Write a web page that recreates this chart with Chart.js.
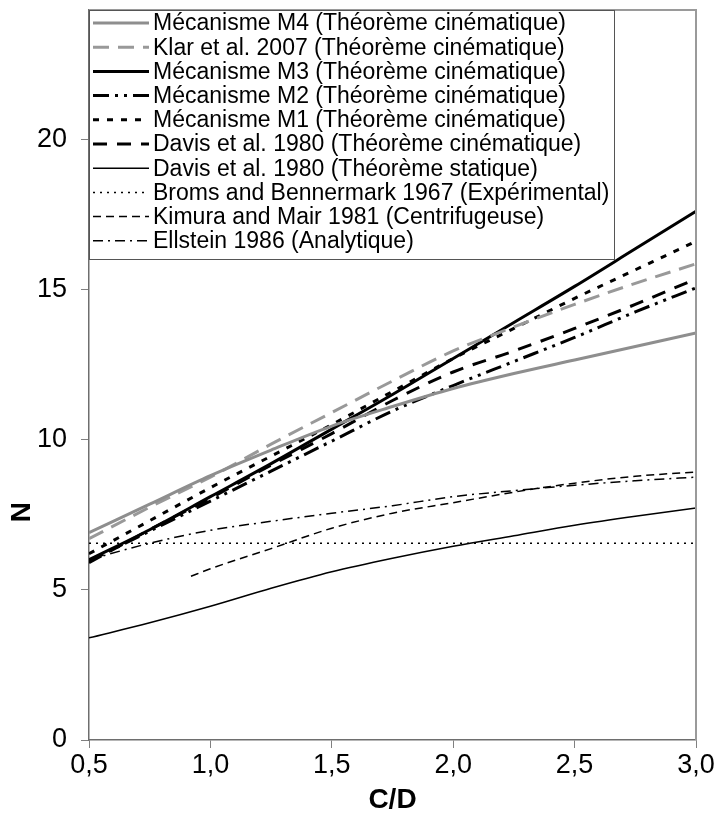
<!DOCTYPE html>
<html><head><meta charset="utf-8">
<script src="https://cdn.jsdelivr.net/npm/chart.js@4/dist/chart.umd.min.js"></script>
<style>html,body{margin:0;padding:0;background:#fff;}</style>
</head><body>
<canvas id="c" width="718" height="821" style="display:block"></canvas>
<script>
// ---- data ----
const cd       = [0.5, 0.75, 1.0, 1.25, 1.5, 1.75, 2.0, 2.25, 2.5, 2.75, 3.0];
const m4       = [6.9, 7.85, 8.8, 9.65, 10.45, 11.1, 11.7, 12.2, 12.65, 13.1, 13.55];
const klar     = [6.7, 7.75, 8.75, 9.85, 10.9, 11.95, 12.95, 13.75, 14.5, 15.2, 15.85];
const m3       = [6.0, 7.0, 8.1, 9.2, 10.35, 11.5, 12.7, 13.9, 15.1, 16.35, 17.6];
const m2       = [5.95, 6.95, 7.95, 8.95, 9.95, 10.95, 11.8, 12.6, 13.4, 14.25, 15.05];
const m1       = [6.2, 7.3, 8.4, 9.45, 10.5, 11.6, 12.7, 13.7, 14.7, 15.65, 16.6];
const davisCin = [5.9, 7.0, 8.05, 9.15, 10.2, 11.3, 12.25, 12.95, 13.7, 14.5, 15.35];
const davisSta = [3.4, 3.9, 4.45, 5.05, 5.6, 6.05, 6.45, 6.8, 7.15, 7.45, 7.72];
const bromsX   = [0.5, 3.0];
const broms    = [6.55, 6.55];
const kimuraX  = [0.92, 1.0, 1.25, 1.5, 1.75, 2.0, 2.25, 2.5, 2.75, 3.0];
const kimura   = [5.45, 5.7, 6.37, 7.05, 7.55, 7.9, 8.25, 8.55, 8.78, 8.92];
const ellstein = [6.0, 6.55, 6.98, 7.28, 7.55, 7.8, 8.1, 8.3, 8.48, 8.63, 8.75];
const labels = [
  'Mécanisme M4 (Théorème cinématique)',
  'Klar et al. 2007 (Théorème cinématique)',
  'Mécanisme M3 (Théorème cinématique)',
  'Mécanisme M2 (Théorème cinématique)',
  'Mécanisme M1 (Théorème cinématique)',
  'Davis et al. 1980 (Théorème cinématique)',
  'Davis et al. 1980 (Théorème statique)',
  'Broms and Bennermark 1967 (Expérimental)',
  'Kimura and Mair 1981 (Centrifugeuse)',
  'Ellstein 1986 (Analytique)'
];
const xTicks = [0.5, 1.0, 1.5, 2.0, 2.5, 3.0];
const yTicks = [0, 5, 10, 15, 20];

const pts = (xs, ys) => xs.map((x, i) => ({x, y: ys[i]}));
const FONT = "'Liberation Sans', Arial, sans-serif";

function ds(label, xs, ys, color, width, dash) {
  return {label, data: pts(xs, ys), borderColor: color, borderWidth: width,
    borderDash: dash, pointRadius: 0, fill: false, cubicInterpolationMode: 'monotone'};
}

const datasets = [
  ds(labels[0], cd, m4, '#8e8e8e', 3, []),
  ds(labels[1], cd, klar, '#999999', 3, [16, 9]),
  ds(labels[2], cd, m3, '#000', 3, []),
  ds(labels[3], cd, m2, '#000', 3, [16, 6, 3, 6, 3, 6]),
  ds(labels[4], cd, m1, '#000', 3, [6, 8]),
  ds(labels[5], cd, davisCin, '#000', 3, [14, 10]),
  ds(labels[6], cd, davisSta, '#000', 1.5, []),
  ds(labels[7], bromsX, broms, '#000', 1.5, [2, 5]),
  ds(labels[8], kimuraX, kimura, '#000', 1.5, [8, 5]),
  ds(labels[9], cd, ellstein, '#000', 1.5, [10, 5, 2, 5])
];

const extras = {
  id: 'extras',
  afterDatasetsDraw(chart) {
    const {ctx, chartArea: a} = chart;
    ctx.save();
    ctx.strokeStyle = '#9a9a9a'; ctx.lineWidth = 2; ctx.setLineDash([]);
    ctx.beginPath(); ctx.moveTo(a.left, a.top); ctx.lineTo(a.right, a.top); ctx.lineTo(a.right, a.bottom); ctx.stroke();
    const lx = a.left, ly = a.top, lw = 525, lh = 249;
    ctx.fillStyle = '#fff'; ctx.fillRect(lx, ly, lw, lh);
    ctx.strokeStyle = '#555'; ctx.lineWidth = 1;
    ctx.strokeRect(lx + 0.5, ly + 0.5, lw, lh);
    chart.data.datasets.forEach((d, i) => {
      const y = ly + 13 + i * 24.2;
      ctx.strokeStyle = d.borderColor; ctx.lineWidth = d.borderWidth;
      ctx.setLineDash(d.borderDash || []);
      ctx.beginPath(); ctx.moveTo(lx + 4, y); ctx.lineTo(lx + 60, y); ctx.stroke();
      ctx.setLineDash([]);
      ctx.fillStyle = '#000'; ctx.font = '23px ' + FONT; ctx.textBaseline = 'middle'; ctx.textAlign = 'left';
      ctx.fillText(d.label, lx + 64, y + 1);
    });
    ctx.restore();
  },
  afterDraw(chart) {
    const {ctx, chartArea: a} = chart;
    ctx.save();
    ctx.translate(22, a.top + 0.688 * (a.bottom - a.top));
    ctx.rotate(-Math.PI / 2);
    ctx.font = 'bold 28px ' + FONT; ctx.fillStyle = '#000';
    ctx.textAlign = 'center'; ctx.textBaseline = 'middle';
    ctx.fillText('N', 0, 0);
    ctx.restore();
  }
};

new Chart(document.getElementById('c'), {
  type: 'line',
  data: {datasets},
  options: {
    responsive: false, animation: false, devicePixelRatio: 1,
    layout: {padding: {top: 10, right: 22, left: 0, bottom: 0}},
    plugins: {legend: {display: false}, tooltip: {enabled: false}},
    elements: {line: {tension: 0.4}},
    scales: {
      x: {
        type: 'linear', min: 0.5, max: 3.0,
        afterBuildTicks: s => { s.ticks = xTicks.map(v => ({value: v})); },
        afterFit: s => { s.height = 81; },
        ticks: {callback: v => v.toFixed(1).replace('.', ','), font: {family: FONT, size: 27}, color: '#000', padding: 1, maxRotation: 0},
        grid: {drawOnChartArea: false, drawTicks: true, tickLength: 8, color: '#808080', lineWidth: 1},
        border: {display: true, color: '#6e6e6e', width: 1.5},
        title: {display: true, text: 'C/D', font: {family: FONT, size: 28, weight: 'bold'}, color: '#000', padding: {top: 0, bottom: 4}}
      },
      y: {
        type: 'linear', min: 0, max: 24.3,
        afterBuildTicks: s => { s.ticks = yTicks.map(v => ({value: v})); },
        afterFit: s => { s.width = 89; s.paddingTop = 0; s.paddingBottom = 0; },
        ticks: {font: {family: FONT, size: 27}, color: '#000', padding: 14},
        grid: {drawOnChartArea: false, drawTicks: true, tickLength: 8, color: '#808080', lineWidth: 1},
        border: {display: true, color: '#6e6e6e', width: 1.5}
      }
    }
  },
  plugins: [extras]
});
</script>
</body></html>
